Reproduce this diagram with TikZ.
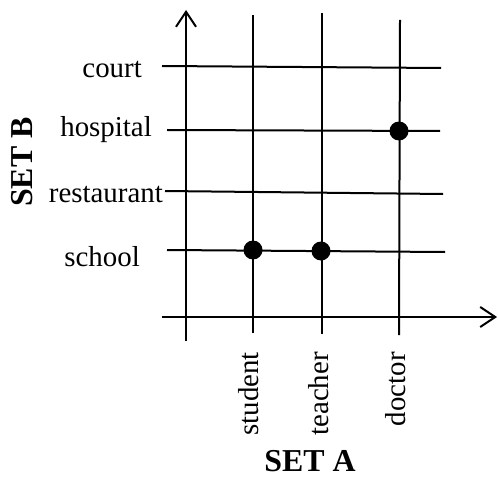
\documentclass[tikz,border=0pt]{standalone}
\usepackage{fontspec}
\setmainfont{Liberation Serif}
\usetikzlibrary{arrows.meta}
\begin{document}
\begin{tikzpicture}[x=1bp,y=-1bp,
  gridline/.style={line width=2bp,draw=black},
  axisline/.style={line width=2bp,draw=black,-{Straight Barb[length=15bp,width=20bp,line width=2bp]}},
  dotnode/.style={circle,fill=black,inner sep=0pt,minimum size=19bp},
  lab/.style={inner sep=0pt,font=\fontsize{29}{34}\selectfont},
  setlab/.style={inner sep=0pt,font=\fontsize{32}{38}\selectfont\bfseries}]
\useasboundingbox (0,0) rectangle (498,478);
% axes
\coordinate (ya0) at (186,341); \coordinate (ya1) at (186,10);
\coordinate (xa0) at (162,317); \coordinate (xa1) at (497,317);
\draw[axisline] (ya0) -- (ya1);
\draw[axisline] (xa0) -- (xa1);
% vertical lines
\coordinate (st0) at (253,15);  \coordinate (st1) at (253,333);
\coordinate (te0) at (322,13);  \coordinate (te1) at (322,334);
\coordinate (do0) at (400,20);  \coordinate (do1) at (399,335);
\draw[gridline] (st0) -- (st1);
\draw[gridline] (te0) -- (te1);
\draw[gridline] (do0) -- (do1);
% horizontal lines
\coordinate (co0) at (162,66);  \coordinate (co1) at (441,68);
\coordinate (ho0) at (167,130); \coordinate (ho1) at (440,131);
\coordinate (re0) at (165,191); \coordinate (re1) at (443,194);
\coordinate (sc0) at (167,250); \coordinate (sc1) at (445,252);
\draw[gridline] (co0) -- (co1);
\draw[gridline] (ho0) -- (ho1);
\draw[gridline] (re0) -- (re1);
\draw[gridline] (sc0) -- (sc1);
% dots
\node[dotnode] (d1) at (253,250) {};
\node[dotnode] (d2) at (321,251) {};
\node[dotnode] (d3) at (399,131) {};
% left labels
\node[lab,anchor=base east] (lco) at (142,78) {court};
\node[lab,anchor=base east] (lho) at (152,137) {hospital};
\node[lab,anchor=base east] (lre) at (163,202) {restaurant};
\node[lab,anchor=base east] (lsc) at (140,266) {school};
% bottom labels
\node[lab,rotate=90,anchor=east] (lst) at (249,352) {student};
\node[lab,rotate=90,anchor=east] (lte) at (319,352) {teacher};
\node[lab,rotate=90,anchor=east] (ldo) at (396,352) {doctor};
% set labels
\node[setlab,rotate=90] (sb) at (22.5,162) {SET B};
\node[setlab] (sa) at (310,461.5) {SET A};
\end{tikzpicture}
\end{document}
